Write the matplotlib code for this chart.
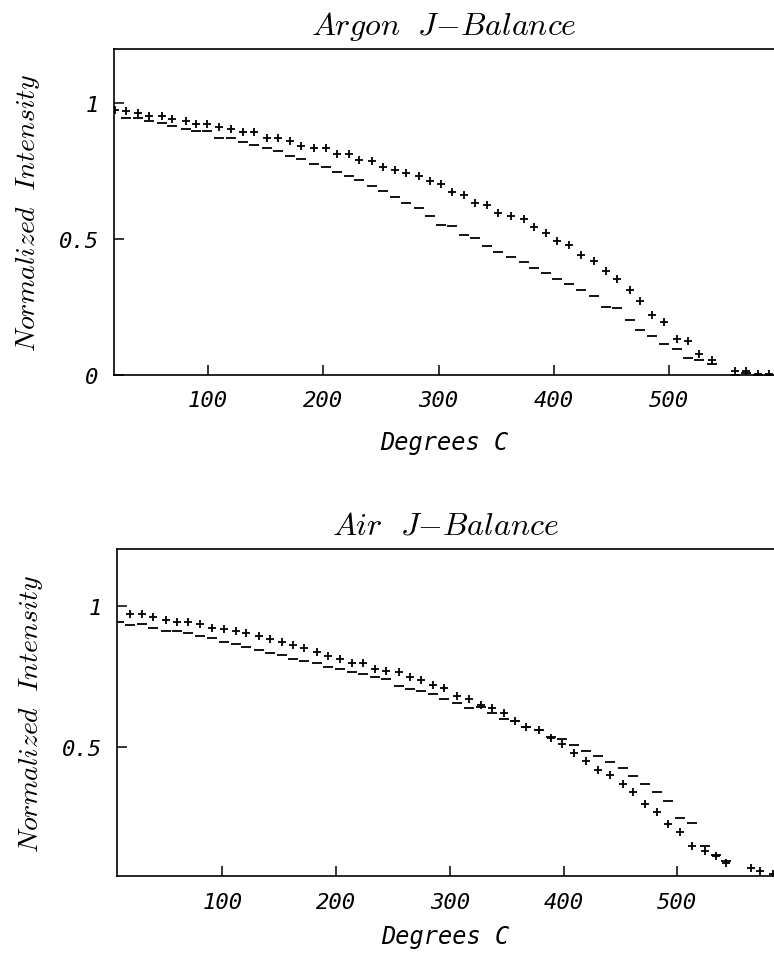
import matplotlib
matplotlib.use('Agg')
import matplotlib.pyplot as plt
import numpy as np

plt.rcParams['mathtext.fontset'] = 'cm'

# ========== DATA ==========
nan = np.nan
argon_x = [19, 29, 39, 49, 60, 69, 81, 90, 99, 110, 120, 130, 140, 151, 161, 171, 181, 192, 202, 212,
           222, 231, 242, 252, 262, 272, 283, 293, 302, 312, 322, 332, 342, 352, 363, 374, 383, 393, 403, 413,
           424, 435, 445, 455, 466, 475, 485, 496, 507, 516, 526, 537, 557, 567, 577, 587]
argon_plus = [0.975, 0.973, 0.963, 0.954, 0.954, 0.942, 0.935, 0.925, 0.925, 0.914, 0.905, 0.895, 0.895, 0.873,
              0.873, 0.862, 0.844, 0.834, 0.834, 0.815, 0.814, 0.793, 0.787, 0.766, 0.756, 0.744, 0.733, 0.713,
              0.704, 0.674, 0.664, 0.633, 0.624, 0.596, 0.585, 0.575, 0.544, 0.523, 0.493, 0.477, 0.443, 0.421,
              0.382, 0.353, 0.313, 0.273, 0.222, 0.196, 0.134, 0.124, 0.076, 0.055, 0.015, 0.015, 0.005, 0.005]
argon_minus = [nan, 0.945, 0.945, 0.935, 0.926, 0.917, 0.905, 0.898, 0.898, 0.874, 0.874, 0.858, 0.846, 0.836,
               0.824, 0.805, 0.794, 0.775, 0.766, 0.748, 0.733, 0.717, 0.696, 0.676, 0.654, 0.634, 0.615, 0.585,
               0.553, 0.547, 0.514, 0.506, 0.474, 0.454, 0.436, 0.415, 0.394, 0.374, 0.353, 0.335, 0.314, 0.292,
               0.252, 0.245, 0.203, 0.166, 0.144, 0.113, 0.095, 0.064, 0.055, 0.039, 0.0, 0.006, 0.0, 0.0]

air_x = [9, 19, 29, 39, 50, 60, 70, 80, 91, 101, 112, 121, 132, 142, 152, 162, 172, 183, 193, 203,
         214, 224, 234, 244, 255, 265, 275, 285, 295, 306, 317, 327, 337, 348, 357, 367, 378, 389, 399, 409,
         420, 430, 441, 452, 461, 472, 482, 492, 502, 513, 524, 534, 543, 565, 573, 584]
air_plus = [nan, 0.970, 0.970, 0.960, 0.949, 0.941, 0.941, 0.934, 0.920, 0.918, 0.909, 0.902, 0.892, 0.882,
            0.872, 0.861, 0.851, 0.835, 0.822, 0.813, 0.798, 0.796, 0.775, 0.768, 0.766, 0.746, 0.736, 0.719,
            0.708, 0.681, 0.669, 0.648, 0.638, 0.621, 0.591, 0.571, 0.561, 0.532, 0.512, 0.479, 0.450, 0.420,
            0.400, 0.370, 0.340, 0.299, 0.272, 0.228, 0.199, 0.152, 0.134, 0.116, 0.092, 0.072, 0.063, 0.051]
air_minus = [0.943, 0.931, 0.934, 0.922, 0.910, 0.910, 0.902, 0.892, 0.884, 0.872, 0.863, 0.852, 0.843, 0.833,
             0.825, 0.813, 0.805, 0.796, 0.784, 0.775, 0.764, 0.757, 0.746, 0.739, 0.716, 0.707, 0.699, 0.687,
             0.671, 0.657, 0.638, 0.642, 0.621, 0.598, 0.591, 0.571, 0.561, 0.535, 0.527, 0.507, 0.486, 0.469,
             0.448, 0.428, 0.398, 0.371, 0.340, 0.311, 0.250, 0.231, 0.152, 0.120, 0.098, nan, nan, nan]

xticks = [100, 200, 300, 400, 500]

tick_font = dict(family='DejaVu Sans Mono', style='oblique', size=16)
xlab_font = dict(family='DejaVu Sans Mono', style='oblique', size=17)

fig = plt.figure(figsize=(7.74, 9.54), dpi=100)
ax1 = fig.add_axes([0.1473, 0.6059, 0.8527, 0.3417])
ax2 = fig.add_axes([0.1512, 0.0802, 0.8488, 0.3433])

panels = [
    (ax1, argon_x, argon_plus, argon_minus, r'$Argon\ \ J{-}Balance$', (18.5, 591), (0, 1.2), [0, 0.5, 1], ['0', '0.5', '1'], 14),
    (ax2, air_x, air_plus, air_minus, r'$Air\ \ J{-}Balance$', (7.3, 585), (0.043, 1.2), [0.5, 1], ['0.5', '1'], 9),
]

for ax, x, yp, ym, title, xl, yl, yt, ytl, lpad in panels:
    ax.plot(x, yp, linestyle='none', marker='+', color='black', ms=5.5, mew=1.3)
    ax.plot(x, ym, linestyle='none', marker='_', color='black', ms=6.5, mew=1.3)
    ax.set_xlim(*xl)
    ax.set_ylim(*yl)
    ax.spines['right'].set_visible(False)
    for s in ['left', 'bottom', 'top']:
        ax.spines[s].set_linewidth(1.2)
    ax.set_xticks(xticks)
    ax.set_xticklabels([str(t) for t in xticks], fontdict=tick_font)
    ax.set_yticks(yt)
    ax.set_yticklabels(ytl, fontdict=tick_font)
    ax.tick_params(direction='in', length=7, width=1.1, pad=11)
    ax.set_title(title, fontsize=23, pad=11)
    ax.set_xlabel('Degrees C', fontdict=xlab_font, labelpad=lpad)
    ax.set_ylabel(r'$Normalized\ \ Intensity$', fontsize=20, labelpad=12)

fig.savefig('out.png', dpi=100)
